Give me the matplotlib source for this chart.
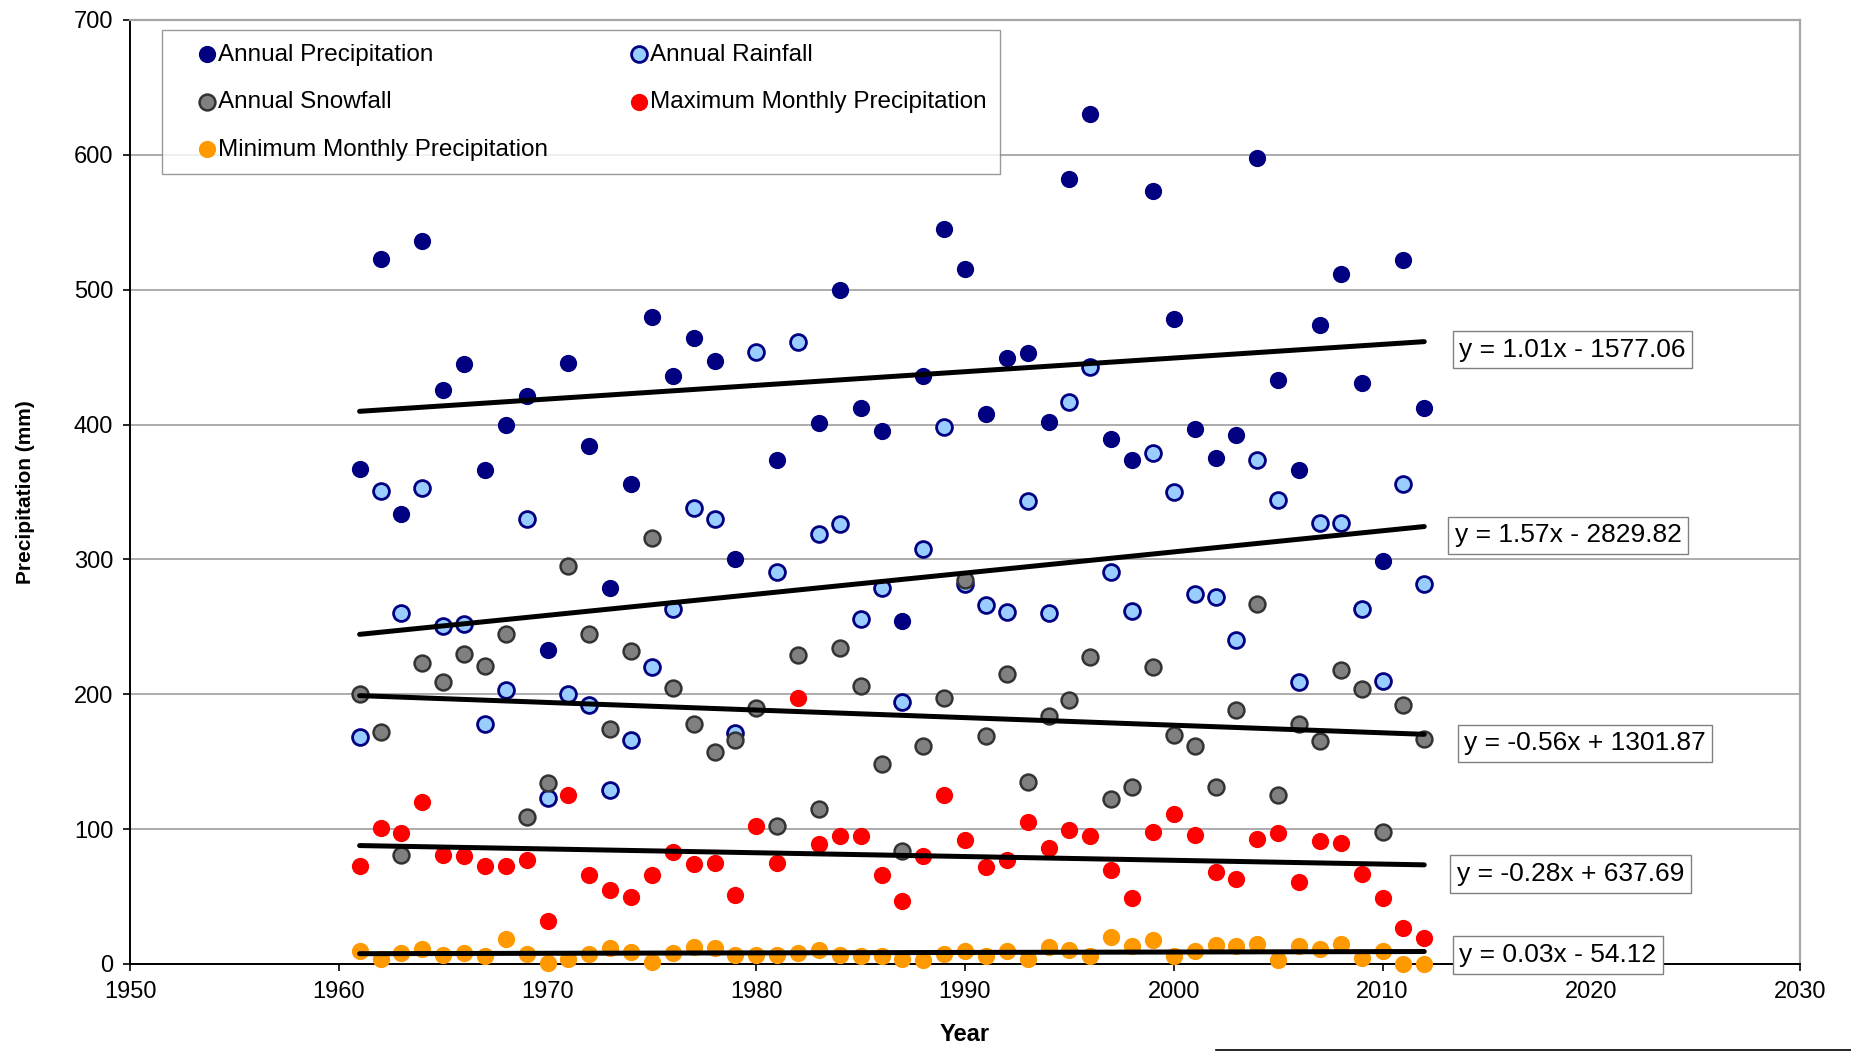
import numpy as np
import matplotlib
matplotlib.use("Agg")
import matplotlib.pyplot as plt
from matplotlib.lines import Line2D

plt.rcParams['font.family'] = ['Liberation Sans', 'DejaVu Sans']

# annual series, 1961-2012 (mm)
years = np.arange(1961, 2013)

annual_precip = [367, 523, 334, 536, 426, 445, 366, 400, 421, 233,
                 446, 384, 279, 356, 480, 436, 464, 447, 300, np.nan,
                 374, np.nan, 401, 500, 412, 395, 254, 436, 545, 515,
                 408, 449, 453, 402, 582, 630, 389, 374, 573, 478,
                 397, 375, 392, 598, 433, 366, 474, 512, 431, 299,
                 522, 412]

annual_rain = [168, 351, 260, 353, 251, 252, 178, 203, 330, 123,
               200, 192, 129, 166, 220, 263, 338, 330, 171, 454,
               291, 461, 319, 326, 256, 279, 194, 308, 398, 282,
               266, 261, 343, 260, 417, 443, 291, 262, 379, 350,
               274, 272, 240, 374, 344, 209, 327, 327, 263, 210,
               356, 282]

annual_snow = [200, 172, 81, 223, 209, 230, 221, 245, 109, 134,
               295, 245, 174, 232, 316, 205, 178, 157, 166, 190,
               102, 229, 115, 234, 206, 148, 84, 162, 197, 285,
               169, 215, 135, 184, 196, 228, 122, 131, 220, 170,
               162, 131, 188, 267, 125, 178, 165, 218, 204, 98,
               192, 167]

max_monthly = [73, 101, 97, 120, 81, 80, 73, 73, 77, 32,
               125, 66, 55, 50, 66, 83, 74, 75, 51, 102,
               75, 197, 89, 95, 95, 66, 47, 80, 125, 92,
               72, 77, 105, 86, 99, 95, 70, 49, 98, 111,
               96, 68, 63, 93, 97, 61, 91, 90, 67, 49,
               27, 19]

min_monthly = [9.4, 3.6, 8.5, 11.2, 6.7, 8.5, 6.3, 18.8, 7.6, 0.9,
               3.6, 7.6, 12.1, 9.0, 1.8, 8.5, 12.6, 11.7, 6.7, 6.7,
               6.7, 8.5, 10.3, 6.7, 5.8, 5.8, 3.6, 3.1, 7.2, 9.4,
               6.3, 9.4, 3.6, 12.6, 10.3, 5.8, 19.7, 13.5, 17.5, 6.3,
               9.4, 14.3, 13.5, 14.8, 2.7, 13.5, 11.2, 15.2, 4.5, 9.4,
               0.0, 0.0]

labels = ['Annual Precipitation', 'Annual Rainfall', 'Annual Snowfall',
          'Maximum Monthly Precipitation', 'Minimum Monthly Precipitation']

# linear trendline coefficients for each series (y = slope * year + intercept)
trend_slope = [1.0132, 1.5677, -0.5624, -0.2804, 0.0315]
trend_intercept = [-1577.06, -2829.82, 1301.87, 637.69, -54.12]
# centre of each equation box (year, mm)
eq_pos = [(2019.1, 455.5), (2018.9, 318), (2019.7, 163.8), (2019.0, 66.7), (2018.4, 6.7)]

faces = ['#000080', '#99CCFF', '#808080', '#FF0000', '#FF9900']
edges = ['#000080', '#000080', '#333333', '#FF0000', '#FF9900']
edge_w = [1.0, 2.0, 1.8, 1.0, 1.0]

series = [annual_precip, annual_rain, annual_snow, max_monthly, min_monthly]

fig = plt.figure(figsize=(18.51, 10.51), dpi=100)
ax = fig.add_axes([130 / 1851, 1 - 964 / 1051, 1670 / 1851, 944 / 1051])

handles = []
for vals, fc, ec, lw, lab in zip(series, faces, edges, edge_w, labels):
    vals = np.array(vals, dtype=float)
    h = ax.scatter(years, vals, s=130, c=fc, edgecolors=ec, linewidths=lw,
                   label=lab, zorder=4, clip_on=False)
    handles.append(h)

xs = np.array([years[0], years[-1]])
for k, b in zip(trend_slope, trend_intercept):
    ax.plot(xs, k * xs + b, color='black', lw=3.6, solid_capstyle='round', zorder=5)

for k, b, (x, y) in zip(trend_slope, trend_intercept, eq_pos):
    sign = '+' if b >= 0 else '-'
    txt = f'y = {k:.2f}x {sign} {abs(b):.2f}'
    ax.text(x, y, txt, fontsize=19, ha='center', va='center', zorder=6,
            bbox=dict(boxstyle='square,pad=0.25', fc='white', ec='#808080', lw=1.0))

ax.set_xlim(1950, 2030)
ax.set_ylim(0, 700)
ax.set_xticks(np.arange(1950, 2031, 10))
ax.set_yticks(np.arange(0, 701, 100))
ax.yaxis.grid(True, color='#A6A6A6', lw=1.3)
ax.set_axisbelow(True)

ax.tick_params(direction='out', length=5, width=1.2, labelsize=17, pad=7)
for side in ['top', 'right']:
    ax.spines[side].set_color('#A6A6A6')
    ax.spines[side].set_linewidth(1.6)
for side in ['left', 'bottom']:
    ax.spines[side].set_color('black')
    ax.spines[side].set_linewidth(1.4)

ax.set_xlabel('Year', fontsize=17, fontweight='bold', va='center')
ax.set_ylabel('Precipitation (mm)', fontsize=15, fontweight='bold', va='center')
ax.xaxis.set_label_coords(0.5, -0.075)
ax.yaxis.set_label_coords(-0.0625, 0.5)

# legend filled row by row: precip, rain / snow, max / min
order = [0, 2, 4, 1, 3]
leg = ax.legend([handles[i] for i in order], [labels[i] for i in order],
                ncol=2, loc='upper left', bbox_to_anchor=(0.0192, 0.989),
                borderaxespad=0, fontsize=17.5, frameon=True, fancybox=False,
                handlelength=2.6, handletextpad=-0.85, columnspacing=2.45,
                labelspacing=1.05, borderpad=0.55, scatterpoints=1)
leg.get_frame().set_edgecolor('#808080')
leg.get_frame().set_linewidth(1.0)
leg.set_zorder(7)

fig.add_artist(Line2D([1216 / 1851, 1.0], [1 - 1049.5 / 1051] * 2, color='black', lw=1.2))

fig.savefig('out.png', dpi=100, facecolor='white')
